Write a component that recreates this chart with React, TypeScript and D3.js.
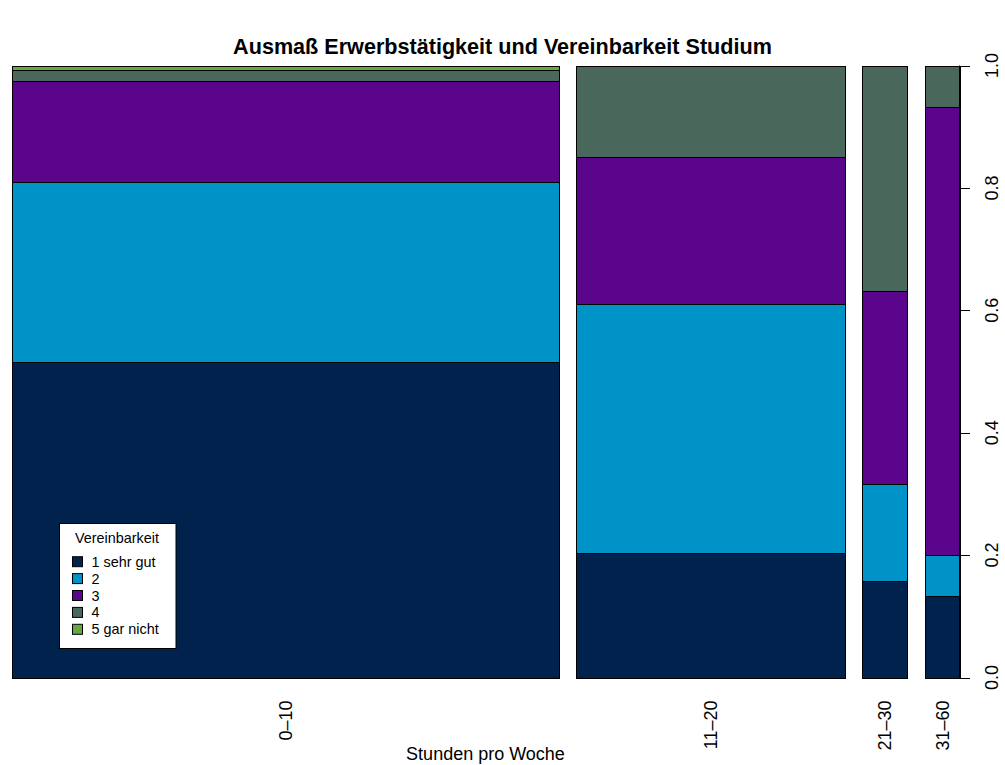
import React from "react";
import * as d3 from "d3";

const hours = ["0–10", "11–20", "21–30", "31–60"];
const hourShare = [0.61, 0.3, 0.051, 0.039];
const categories = ["1 sehr gut", "2", "3", "4", "5 gar nicht"];
const sehrGut = [0.516, 0.203, 0.158, 0.133];
const zwei = [0.294, 0.407, 0.158, 0.067];
const drei = [0.166, 0.24, 0.316, 0.733];
const vier = [0.017, 0.15, 0.368, 0.067];
const garNicht = [0.008, 0, 0, 0];
const colors = ["#00224D", "#0093C8", "#5B048C", "#4A675B", "#68A63F"];
const yTicks = [0, 0.2, 0.4, 0.6, 0.8, 1.0];

const series = [sehrGut, zwei, drei, vier, garNicht];
const OFF = 0.019;
const FONT = "Liberation Sans, Arial, Helvetica, sans-serif";

export default function App() {
  const W = 1005, H = 765;
  const left = 11.5, right = 959.5, top = 65.5, bottom = 677.5;
  const totalShare = d3.sum(hourShare);
  const x = d3.scaleLinear().domain([0, 1 + OFF * (hours.length - 1)]).range([left, right]);
  const y = d3.scaleLinear().domain([0, 1]).range([bottom, top]);

  let acc = 0;
  const cols = hours.map((h, i) => {
    const w = hourShare[i] / totalShare;
    const x0 = acc + i * OFF;
    acc += w;
    const vals = series.map((s) => s[i]);
    const tot = d3.sum(vals);
    let c = 0;
    const segs = vals.map((v, k) => {
      const y0 = c / tot;
      c += v;
      return { k, y0, y1: c / tot, v };
    });
    return { h, x0, x1: x0 + w, segs };
  });

  return (
    <svg width={W} height={H} style={{ display: "block", position: "absolute", left: 0, top: 0 }} fontFamily={FONT}>
      <rect width={W} height={H} fill="#fff" />
      <text x={W / 2} y={54} textAnchor="middle" fontWeight="bold" fontSize={21.6}>
        Ausmaß Erwerbstätigkeit und Vereinbarkeit Studium
      </text>
      {cols.map((c, i) => (
        <g key={i}>
          {c.segs.filter((s) => s.v > 0).map((s) => (
            <rect
              key={s.k}
              x={Math.round(x(c.x0)) + 0.5}
              y={Math.round(y(s.y1)) + 0.5}
              width={Math.round(x(c.x1)) - Math.round(x(c.x0))}
              height={Math.round(y(s.y0)) - Math.round(y(s.y1))}
              fill={colors[s.k]}
              stroke="#000"
              strokeWidth={1}
            />
          ))}
          <text
            transform={`translate(${(x(c.x0) + x(c.x1)) / 2 + 6.5},${bottom + 23}) rotate(-90)`}
            textAnchor="end"
            fontSize={18}
          >
            {c.h}
          </text>
        </g>
      ))}
      <line x1={right} x2={right} y1={y(0)} y2={y(1)} stroke="#000" />
      {yTicks.map((t) => (
        <g key={t}>
          <line x1={right} x2={right + 10.5} y1={Math.round(y(t)) + 0.5} y2={Math.round(y(t)) + 0.5} stroke="#000" />
          <text transform={`translate(${998},${y(t)}) rotate(-90)`} textAnchor="middle" fontSize={18}>
            {t.toFixed(1)}
          </text>
        </g>
      ))}
      <text x={(left + right) / 2} y={760} textAnchor="middle" fontSize={18}>
        Stunden pro Woche
      </text>
      <g>
        <rect x={59.5} y={523.5} width={116.5} height={125} fill="#fff" stroke="#000" />
        <text x={117} y={542.5} textAnchor="middle" fontSize={14.4}>
          Vereinbarkeit
        </text>
        {categories.map((c, i) => (
          <g key={c}>
            <rect x={72.5} y={561.7 + i * 16.9 - 5} width={10} height={10} fill={colors[i]} stroke="#000" />
            <text x={91.5} y={561.7 + i * 16.9 + 5} fontSize={14.4}>
              {c}
            </text>
          </g>
        ))}
      </g>
    </svg>
  );
}
